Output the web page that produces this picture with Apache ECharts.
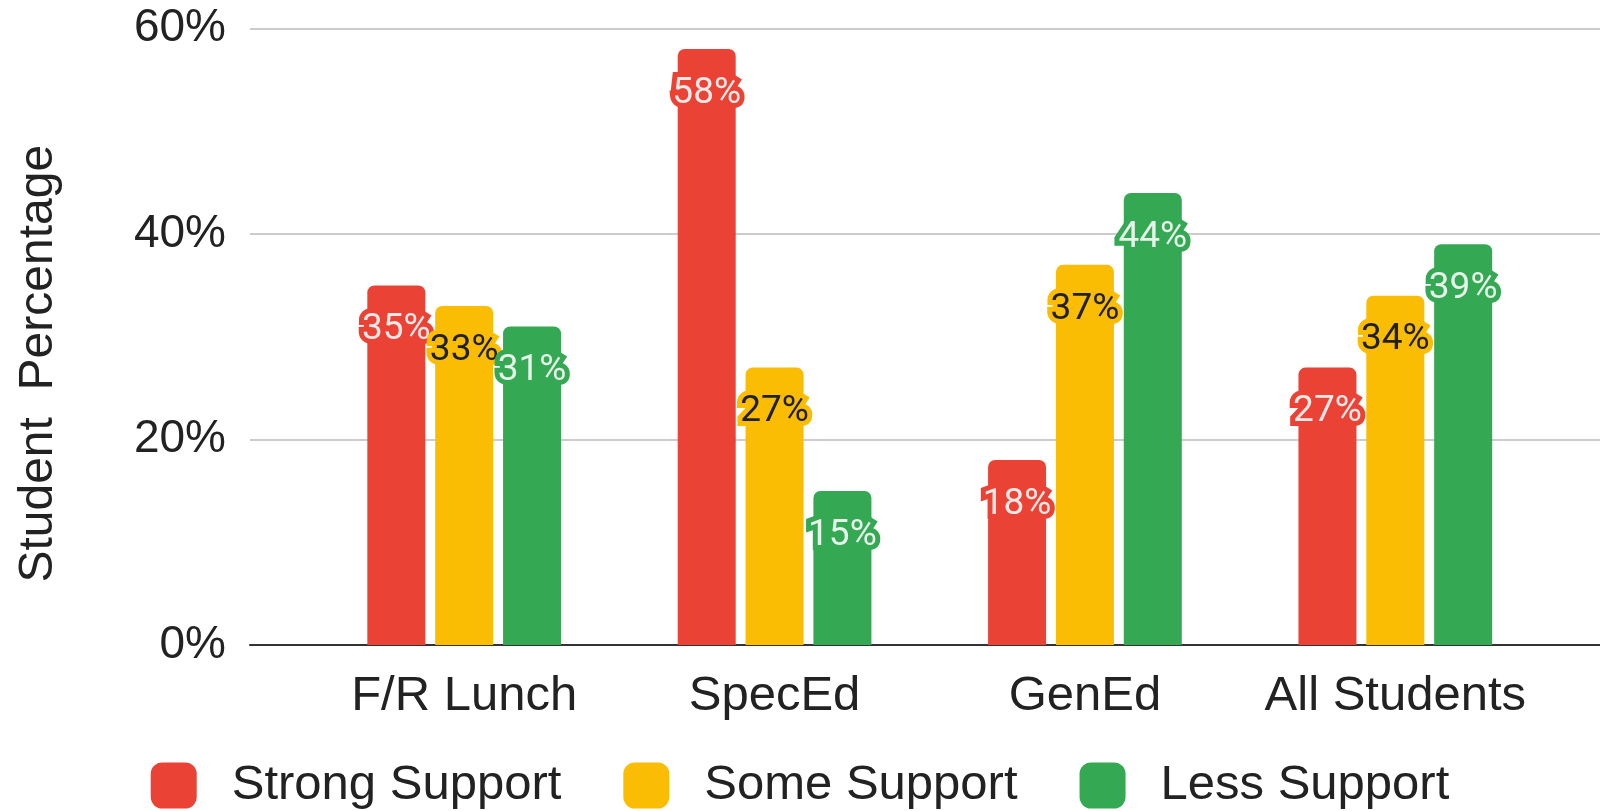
<!DOCTYPE html>
<html>
<head>
<meta charset="utf-8">
<script src="https://cdn.jsdelivr.net/npm/echarts@6/dist/echarts.min.js"></script>
<style>
  html, body { margin: 0; padding: 0; background: #fff; }
  #chart { width: 1600px; height: 811px; }
</style>
</head>
<body>
<div id="chart"></div>
<script>
  // data
  const categories = ['F/R Lunch', 'SpecEd', 'GenEd', 'All Students'];
  const seriesNames = ['Strong Support', 'Some Support', 'Less Support'];
  const strongSupport = [35, 58, 18, 27];
  const someSupport = [33, 27, 37, 34];
  const lessSupport = [31, 15, 44, 39];
  const yTicks = [0, 20, 40, 60];

  const colors = ['#EA4335', '#FBBC04', '#34A853'];
  const labelColors = ['#FCE8E6', '#202124', '#E6F4EA'];
  const values = [strongSupport, someSupport, lessSupport];

  const gridTop = 28.5;
  const gridBottom = 166;

  const chart = echarts.init(document.getElementById('chart'));

  const series = seriesNames.map((name, i) => ({
    name: name,
    type: 'bar',
    xAxisIndex: 1,
    yAxisIndex: 1,
    data: values[i],
    barWidth: 58,
    barGap: '17%',
    itemStyle: { color: colors[i], borderRadius: [7, 7, 0, 0] },
    label: {
      show: true,
      position: 'insideTop',
      distance: 26,
      formatter: '{c}%',
      fontFamily: 'Roboto',
      fontSize: 37,
      color: labelColors[i],
      textBorderColor: colors[i],
      textBorderWidth: 10
    }
  }));

  const option = {
    animation: false,
    color: colors,
    grid: [
      // wide grid: only for gridlines, y labels and baseline
      { left: 250, right: 0, top: gridTop, bottom: gridBottom },
      // bar grid
      { left: 309, right: 49.5, top: gridTop, bottom: gridBottom }
    ],
    xAxis: [
      {
        type: 'value',
        gridIndex: 0,
        min: 0,
        max: 1,
        axisLine: { show: true, onZero: false, lineStyle: { color: '#333', width: 2 } },
        axisTick: { show: false },
        axisLabel: { show: false },
        splitLine: { show: false }
      },
      {
        type: 'category',
        gridIndex: 1,
        data: categories,
        axisLine: { show: false },
        axisTick: { show: false },
        axisLabel: {
          interval: 0,
          margin: 27,
          fontFamily: 'Liberation Sans',
          fontSize: 49,
          color: '#222'
        }
      }
    ],
    yAxis: [
      {
        type: 'value',
        gridIndex: 0,
        min: yTicks[0],
        max: yTicks[yTicks.length - 1],
        interval: 20,
        name: 'Student  Percentage',
        nameLocation: 'middle',
        nameGap: 187,
        nameTextStyle: {
          fontFamily: 'Liberation Sans',
          fontSize: 48,
          color: '#222',
          padding: [0, 54, 0, 0]
        },
        axisLine: { show: false },
        axisTick: { show: false },
        axisLabel: {
          margin: 24,
          fontFamily: 'Liberation Sans',
          fontSize: 46,
          color: '#222',
          formatter: '{value}%'
        },
        splitLine: { lineStyle: { color: '#cccccc', width: 2 } }
      },
      {
        type: 'value',
        gridIndex: 1,
        min: yTicks[0],
        max: yTicks[yTicks.length - 1],
        interval: 20,
        show: false,
        splitLine: { show: false }
      }
    ],
    legend: {
      bottom: -4,
      left: 'center',
      itemWidth: 46,
      itemHeight: 46,
      itemGap: 62,
      icon: 'roundRect',
      data: seriesNames,
      textStyle: {
        fontFamily: 'Liberation Sans',
        fontSize: 49,
        color: '#222',
        padding: [0, 0, 0, 30]
      }
    },
    series: series
  };

  chart.setOption(option);
</script>
</body>
</html>
